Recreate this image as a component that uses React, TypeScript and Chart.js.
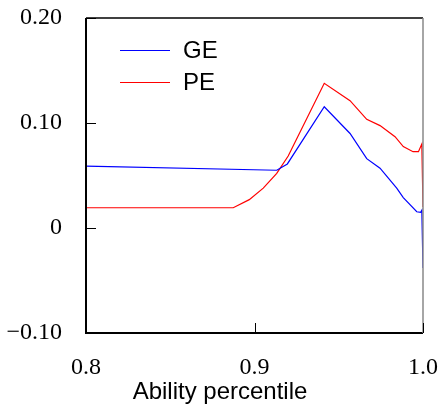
import React, { useEffect, useRef } from "react";
import { Chart, registerables } from "chart.js";
Chart.register(...registerables);

const geX = [0.8, 0.9132, 0.9195, 0.9414, 0.9567, 0.9666, 0.9745, 0.9844, 0.9883, 0.9963, 0.9986, 0.9993, 1.0];
const geY = [0.059, 0.055, 0.061, 0.1155, 0.09, 0.066, 0.057, 0.038, 0.029, 0.0155, 0.015, 0.017, -0.038];
const peX = [0.8, 0.8874, 0.8969, 0.9052, 0.9132, 0.92, 0.9414, 0.9567, 0.9666, 0.9745, 0.9834, 0.9883, 0.9941, 0.9973, 0.9993, 1.0];
const peY = [0.0193, 0.0193, 0.027, 0.038, 0.052, 0.0686, 0.1378, 0.1213, 0.1035, 0.0975, 0.087, 0.0775, 0.0727, 0.0727, 0.08, 0.02];
const seriesNames = ["GE", "PE"];
const seriesColors = ["#0000ff", "#ff0000"];
const xTicks = [0.8, 0.9, 1.0];
const xTickLabels = ["0.8", "0.9", "1.0"];
const yTicks = [-0.1, 0, 0.1, 0.2];
const yTickLabels = ["\u22120.10", "0", "0.10", "0.20"];
const xTitle = "Ability percentile";

const framePlugin = {
  id: "frame",
  afterDraw(chart: any) {
    const ctx = chart.ctx;
    const a = chart.chartArea;
    const xs = chart.scales.x;
    const ys = chart.scales.y;
    ctx.save();
    ctx.strokeStyle = "#000";
    ctx.lineWidth = 1.5;
    ctx.beginPath();
    ctx.moveTo(a.left, a.top);
    ctx.lineTo(a.right, a.top);
    ctx.stroke();
    ctx.lineWidth = 2;
    ctx.beginPath();
    ctx.moveTo(a.left, a.top);
    ctx.lineTo(a.left, a.bottom);
    ctx.lineTo(a.right, a.bottom);
    ctx.stroke();
    ctx.strokeStyle = "#888";
    ctx.lineWidth = 1.5;
    ctx.beginPath();
    ctx.moveTo(a.right, a.top);
    ctx.lineTo(a.right, a.bottom);
    ctx.stroke();
    ctx.strokeStyle = "#000";
    ctx.lineWidth = 1;
    yTicks.forEach((v) => {
      const py = Math.round(ys.getPixelForValue(v)) + 0.5;
      ctx.beginPath();
      ctx.moveTo(a.left, py);
      ctx.lineTo(a.left + 10, py);
      ctx.stroke();
    });
    xTicks.forEach((v) => {
      const px = Math.round(xs.getPixelForValue(v)) + 0.5;
      ctx.beginPath();
      ctx.moveTo(px, a.bottom);
      ctx.lineTo(px, a.bottom - 10);
      ctx.stroke();
    });
    ctx.font = "24px 'Liberation Sans', Arial, sans-serif";
    ctx.textBaseline = "middle";
    ctx.textAlign = "left";
    seriesNames.forEach((name, i) => {
      const y = 50 + i * 32;
      ctx.strokeStyle = seriesColors[i];
      ctx.lineWidth = 1.2;
      ctx.beginPath();
      ctx.moveTo(120, y + 0.5);
      ctx.lineTo(170, y + 0.5);
      ctx.stroke();
      ctx.fillStyle = "#000";
      ctx.fillText(name, 183, y + 1);
    });
    ctx.textAlign = "center";
    ctx.fillText(xTitle, 220, 392);
    ctx.restore();
  },
};

const zeroPad = (s: any) => {
  s.paddingLeft = 0;
  s.paddingRight = 0;
  s.paddingTop = 0;
  s.paddingBottom = 0;
};

export default function App() {
  const ref = useRef<HTMLCanvasElement>(null);
  useEffect(() => {
    const chart = new Chart(ref.current as HTMLCanvasElement, {
      type: "line",
      data: {
        datasets: [
          {
            label: seriesNames[0],
            data: geX.map((x, i) => ({ x, y: geY[i] })),
            borderColor: seriesColors[0],
            borderWidth: 1.2,
            pointRadius: 0,
            tension: 0,
            fill: false,
          },
          {
            label: seriesNames[1],
            data: peX.map((x, i) => ({ x, y: peY[i] })),
            borderColor: seriesColors[1],
            borderWidth: 1.2,
            pointRadius: 0,
            tension: 0,
            fill: false,
          },
        ],
      },
      options: {
        responsive: false,
        animation: false,
        layout: { padding: { left: 0, right: 18, top: 18, bottom: 0 } },
        plugins: { legend: { display: false }, tooltip: { enabled: false } },
        scales: {
          x: {
            type: "linear",
            min: 0.8,
            max: 1.0,
            afterBuildTicks: (s: any) => {
              s.ticks = xTicks.map((v) => ({ value: v }));
            },
            afterFit: (s: any) => {
              s.height = 75;
              zeroPad(s);
            },
            grid: { display: false, drawTicks: false },
            border: { display: false },
            ticks: {
              color: "#000",
              padding: 20,
              maxRotation: 0,
              autoSkip: false,
              font: { family: "'Liberation Serif', 'Times New Roman', serif", size: 24 },
              callback: (v: any) => {
                const i = xTicks.findIndex((t) => Math.abs(t - v) < 1e-9);
                return i >= 0 ? xTickLabels[i] : "";
              },
            },
          },
          y: {
            type: "linear",
            min: -0.1,
            max: 0.2,
            afterBuildTicks: (s: any) => {
              s.ticks = yTicks.map((v) => ({ value: v }));
            },
            afterFit: (s: any) => {
              s.width = 86;
              zeroPad(s);
            },
            grid: { display: false, drawTicks: false },
            border: { display: false },
            ticks: {
              color: "#000",
              padding: 24,
              autoSkip: false,
              font: { family: "'Liberation Serif', 'Times New Roman', serif", size: 24 },
              callback: (v: any) => {
                const i = yTicks.findIndex((t) => Math.abs(t - v) < 1e-9);
                return i >= 0 ? yTickLabels[i] : "";
              },
            },
          },
        },
      },
      plugins: [framePlugin],
    } as any);
    return () => chart.destroy();
  }, []);
  return (
    <div style={{ position: "absolute", left: 0, top: 0, width: 441, height: 408, background: "#fff" }}>
      <canvas ref={ref} width={441} height={408} style={{ display: "block" }} />
    </div>
  );
}
